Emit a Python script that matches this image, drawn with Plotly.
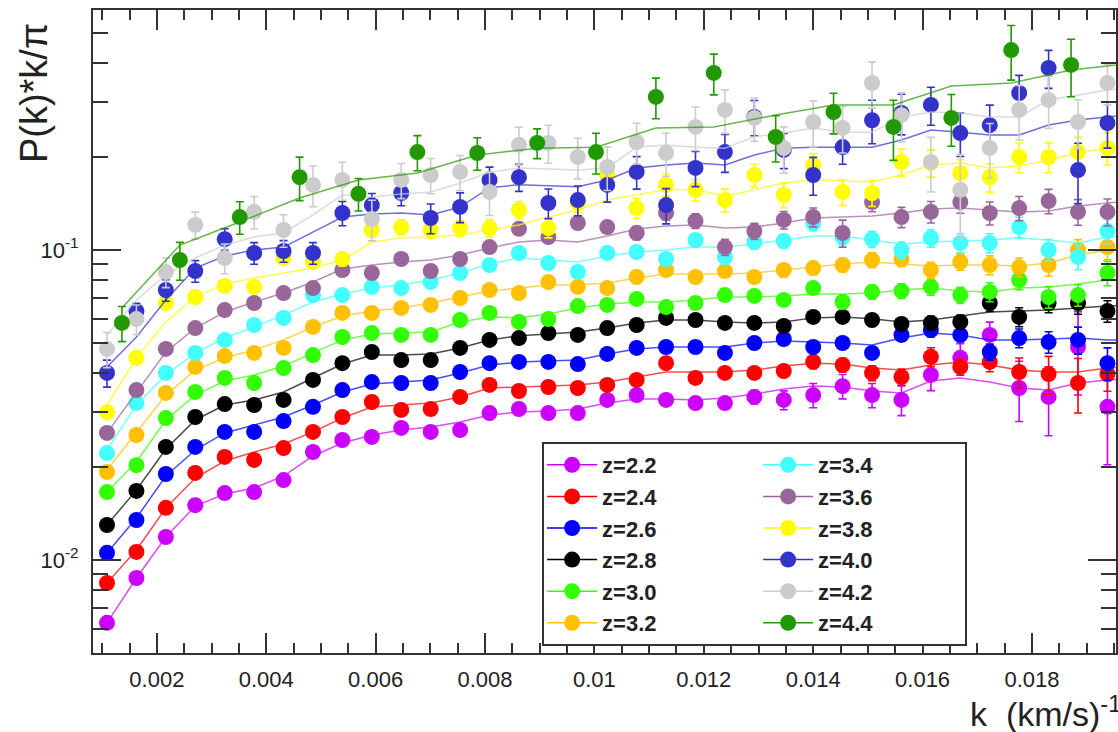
import plotly.graph_objects as go

# ---------------- data ----------------
k = [0.001088, 0.001626, 0.002164, 0.002702, 0.003240, 0.003778, 0.004316, 0.004854, 0.005392, 0.005930,
     0.006468, 0.007006, 0.007544, 0.008082, 0.008620, 0.009158, 0.009696, 0.010234, 0.010772, 0.011310,
     0.011848, 0.012386, 0.012924, 0.013462, 0.014000, 0.014538, 0.015076, 0.015614, 0.016152, 0.016690,
     0.017228, 0.017766, 0.018304, 0.018842, 0.019380]
k_model = [0.001088, 0.001626, 0.002164, 0.002702, 0.003240, 0.003778, 0.004316, 0.004854, 0.005392, 0.005930,
           0.006468, 0.007006, 0.007544, 0.008082, 0.008620, 0.009158, 0.009696, 0.010234, 0.010772, 0.011310,
           0.011848, 0.012386, 0.012924, 0.013462, 0.014000, 0.014538, 0.015076, 0.015614, 0.016152, 0.016690,
           0.017228, 0.017766, 0.018304, 0.018842, 0.019380, 0.019918]
k44 = [0.001361, 0.002420, 0.003515, 0.004609, 0.005686, 0.006763, 0.007858, 0.008953, 0.010029, 0.011124,
       0.012182, 0.013314, 0.014372, 0.015467, 0.016526, 0.017620, 0.018715]
k44_model = [0.001361, 0.002420, 0.003515, 0.004609, 0.005686, 0.006763, 0.007858, 0.008953, 0.010029, 0.011124,
             0.012182, 0.013314, 0.014372, 0.015467, 0.016526, 0.017620, 0.018715, 0.019810]

z22 = [0.00627, 0.00875, 0.01186, 0.01503, 0.01644, 0.01656, 0.01811, 0.0223, 0.02439, 0.02494, 0.02668, 0.02589,
       0.02626, 0.02979, 0.03069, 0.02979, 0.02979, 0.03283, 0.03405, 0.03283, 0.03208, 0.03208, 0.03357, 0.03283,
       0.03405, 0.03638, 0.03405, 0.03283, 0.03954, 0.04489, 0.05322, 0.03587, 0.03357, 0.04866, 0.03120]
z24 = [0.00843, 0.01062, 0.01473, 0.01909, 0.02150, 0.02103, 0.02297, 0.02589, 0.02892, 0.03234, 0.03048, 0.03069,
       0.03357, 0.03672, 0.03508, 0.03615, 0.03587, 0.03672, 0.03811, 0.04315, 0.03867, 0.04012, 0.04012, 0.04071,
       0.04355, 0.04257, 0.04012, 0.03894, 0.04522, 0.04195, 0.04355, 0.04041, 0.03981, 0.03724, 0.03981]
z26 = [0.01055, 0.01346, 0.01894, 0.02316, 0.02589, 0.02589, 0.02806, 0.03120, 0.03533, 0.03750, 0.03724, 0.03724,
       0.04041, 0.04315, 0.04355, 0.04355, 0.04286, 0.04620, 0.04831, 0.04866, 0.04866, 0.04655, 0.05012, 0.05164,
       0.04866, 0.05012, 0.04655, 0.05322, 0.05521, 0.05322, 0.04689, 0.05200, 0.05047, 0.05128, 0.04315]
z28 = [0.01297, 0.01671, 0.02316, 0.02892, 0.03184, 0.03162, 0.03283, 0.03811, 0.04315, 0.04689, 0.04416, 0.04416,
       0.04831, 0.05128, 0.05200, 0.05396, 0.05322, 0.05600, 0.05730, 0.06040, 0.05945, 0.05818, 0.05818, 0.05686,
       0.06083, 0.06083, 0.05945, 0.05775, 0.05818, 0.05861, 0.06745, 0.06083, 0.06745, 0.06745, 0.06353]
z30 = [0.01656, 0.02023, 0.02870, 0.03482, 0.03867, 0.03724, 0.04161, 0.04583, 0.05240, 0.05396, 0.05322, 0.05322,
       0.05945, 0.06266, 0.05861, 0.05988, 0.06595, 0.06650, 0.06953, 0.06546, 0.06745, 0.07156, 0.07109, 0.06902,
       0.07535, 0.06796, 0.07324, 0.07379, 0.07600, 0.07156, 0.07324, 0.08003, 0.07052, 0.07156, 0.08431]
z32 = [0.01923, 0.02531, 0.03459, 0.04195, 0.04549, 0.04655, 0.04831, 0.05646, 0.06266, 0.06266, 0.06499, 0.06650,
       0.07000, 0.07430, 0.07263, 0.07882, 0.07600, 0.07535, 0.08181, 0.08618, 0.08181, 0.08554, 0.08181, 0.08618,
       0.08746, 0.08948, 0.09286, 0.09355, 0.08618, 0.09150, 0.08948, 0.08811, 0.08948, 0.1000, 0.1022]
z34 = [0.02213, 0.03208, 0.04012, 0.04655, 0.05128, 0.05730, 0.06040, 0.07156, 0.07156, 0.07600, 0.07535, 0.07882,
       0.08431, 0.08948, 0.09780, 0.09080, 0.08494, 0.09780, 0.09852, 0.09355, 0.1077, 0.09494, 0.1061, 0.1069,
       0.1222, 0.1101, 0.1084, 0.1000, 0.1093, 0.1054, 0.1054, 0.1186, 0.1000, 0.09494, 0.1151]
z36 = [0.02570, 0.03533, 0.04797, 0.05600, 0.06399, 0.06745, 0.07263, 0.07535, 0.08618, 0.08431, 0.09355, 0.08554,
       0.09355, 0.1022, 0.1170, 0.1101, 0.1222, 0.1186, 0.1135, 0.1316, 0.1241, 0.1022, 0.1151, 0.1250,
       0.1277, 0.1135, 0.1428, 0.1277, 0.1328, 0.1428, 0.1316, 0.1365, 0.1439, 0.1328, 0.1328]
z38 = [0.02999, 0.04489, 0.06745, 0.07052, 0.07656, 0.07600, 0.09424, 0.09150, 0.09355, 0.1160, 0.1186, 0.1160,
       0.1177, 0.1177, 0.1346, 0.1177, 0.1418, 0.1746, 0.1365, 0.1622, 0.1563, 0.1449, 0.1746, 0.1505,
       0.1879, 0.1539, 0.1527, 0.1923, 0.1909, 0.1771, 0.1718, 0.1995, 0.1995, 0.2070, 0.2133]
z40 = [0.04012, 0.06353, 0.07430, 0.08554, 0.1084, 0.09780, 0.09925, 0.09780, 0.1316, 0.1396, 0.1527, 0.1268,
       0.1377, 0.1683, 0.1718, 0.1418, 0.1449, 0.1622, 0.1786, 0.1396, 0.1840, 0.2070, 0.2686, 0.2103,
       0.1746, 0.2148, 0.2622, 0.2766, 0.2937, 0.2383, 0.2528, 0.3210, 0.3864, 0.1811, 0.2568]
z42 = [0.04797, 0.05988, 0.08494, 0.1205, 0.09424, 0.1328, 0.1160, 0.1622, 0.1683, 0.1259, 0.1683, 0.1746,
       0.1786, 0.1539, 0.2184, 0.2215, 0.1995, 0.1853, 0.2230, 0.2055, 0.2494, 0.2831, 0.2667, 0.2133,
       0.2588, 0.2477, 0.3457, 0.2723, 0.1923, 0.1563, 0.2133, 0.2831, 0.3048, 0.2588, 0.3457]
z44 = [0.05818, 0.09286, 0.1277, 0.1718, 0.1518, 0.2070, 0.2055, 0.2215, 0.2070, 0.3118, 0.3725, 0.2316,
       0.2787, 0.2494, 0.2667, 0.4415, 0.3953]

# model curves
m22 = [0.00627, 0.00875, 0.01186, 0.01493, 0.01632, 0.01708, 0.01866, 0.02166, 0.02384, 0.02531, 0.02627, 0.02686,
       0.02787, 0.02935, 0.03003, 0.03025, 0.03070, 0.03208, 0.03304, 0.03304, 0.03280, 0.03329, 0.03430, 0.03560,
       0.03640, 0.03613, 0.03508, 0.03456, 0.03780, 0.03865, 0.03751, 0.03587, 0.03534, 0.03724, 0.03808, 0.03865]
m24 = [0.00843, 0.01077, 0.01471, 0.01839, 0.02086, 0.02231, 0.02366, 0.02589, 0.02872, 0.03115, 0.03162, 0.03208,
       0.03357, 0.03587, 0.03613, 0.03640, 0.03672, 0.03751, 0.03892, 0.04039, 0.04039, 0.04039, 0.04099, 0.04222,
       0.04315, 0.04286, 0.04159, 0.04099, 0.04253, 0.04349, 0.04253, 0.04099, 0.04039, 0.04039, 0.04159, 0.04222]
m26 = [0.01053, 0.01366, 0.01866, 0.02264, 0.02569, 0.02726, 0.02892, 0.03162, 0.03482, 0.03697, 0.03751, 0.03808,
       0.04012, 0.04253, 0.04349, 0.04382, 0.04416, 0.04620, 0.04797, 0.04866, 0.04866, 0.04866, 0.05012, 0.05088,
       0.05050, 0.05012, 0.04938, 0.05200, 0.05396, 0.05322, 0.05128, 0.05128, 0.05164, 0.05200, 0.05128, 0.05128]
m28 = [0.01297, 0.01682, 0.02280, 0.02829, 0.03162, 0.03280, 0.03482, 0.03865, 0.04286, 0.04583, 0.04583, 0.04620,
       0.04831, 0.05128, 0.05285, 0.05360, 0.05438, 0.05600, 0.05818, 0.05945, 0.05945, 0.05861, 0.05818, 0.05861,
       0.06040, 0.06083, 0.05996, 0.05861, 0.05945, 0.06128, 0.06310, 0.06353, 0.06399, 0.06496, 0.06594, 0.06644]
m30 = [0.01656, 0.02070, 0.02829, 0.03403, 0.03780, 0.03954, 0.04222, 0.04655, 0.05128, 0.05360, 0.05396, 0.05438,
       0.05861, 0.06083, 0.06040, 0.06214, 0.06500, 0.06694, 0.06796, 0.06796, 0.06896, 0.07052, 0.07052, 0.07105,
       0.07211, 0.07211, 0.07263, 0.07430, 0.07540, 0.07379, 0.07324, 0.07540, 0.07600, 0.07772, 0.08000, 0.08121]
m32 = [0.01952, 0.02589, 0.03403, 0.04099, 0.04489, 0.04760, 0.05128, 0.05646, 0.06128, 0.06353, 0.06500, 0.06745,
       0.07052, 0.07379, 0.07540, 0.07714, 0.07714, 0.07830, 0.08121, 0.08363, 0.08363, 0.08363, 0.08426, 0.08618,
       0.08811, 0.09011, 0.09150, 0.09011, 0.08876, 0.08943, 0.08943, 0.08876, 0.09080, 0.09635, 0.1000, 0.1015]
m34 = [0.02264, 0.03162, 0.03954, 0.04655, 0.05200, 0.05646, 0.06170, 0.06796, 0.07211, 0.07540, 0.07714, 0.08000,
       0.08426, 0.09011, 0.09424, 0.09286, 0.09150, 0.09564, 0.09852, 0.1000, 0.1022, 0.1022, 0.1045, 0.1077,
       0.1110, 0.1110, 0.1077, 0.1045, 0.1061, 0.1069, 0.1077, 0.1093, 0.1077, 0.1053, 0.1101, 0.1118]
m36 = [0.02570, 0.03482, 0.04689, 0.05600, 0.06310, 0.06796, 0.07263, 0.07882, 0.08683, 0.08948, 0.09150, 0.09286,
       0.09635, 0.1015, 0.1061, 0.1077, 0.1061, 0.1110, 0.1169, 0.1195, 0.1204, 0.1177, 0.1186, 0.1222,
       0.1268, 0.1277, 0.1287, 0.1316, 0.1356, 0.1365, 0.1346, 0.1326, 0.1336, 0.1386, 0.1418, 0.1449]
m38 = [0.03162, 0.04489, 0.05861, 0.07052, 0.07772, 0.08121, 0.08426, 0.08746, 0.09286, 0.1061, 0.1093, 0.1101,
       0.1118, 0.1160, 0.1204, 0.1277, 0.1346, 0.1449, 0.1505, 0.1563, 0.1563, 0.1493, 0.1563, 0.1646,
       0.1684, 0.1671, 0.1658, 0.1746, 0.1879, 0.1909, 0.1839, 0.1866, 0.1952, 0.2056, 0.2133, 0.2182]
m40 = [0.04192, 0.05240, 0.06896, 0.08746, 0.09564, 0.1000, 0.1022, 0.1143, 0.1278, 0.1307, 0.1316, 0.1297,
       0.1376, 0.1588, 0.1624, 0.1612, 0.1600, 0.1682, 0.1839, 0.1879, 0.1907, 0.1879, 0.2025, 0.2131,
       0.2147, 0.2147, 0.2147, 0.2265, 0.2438, 0.2400, 0.2349, 0.2349, 0.2531, 0.2627, 0.2686, 0.2747]
m42 = [0.05322, 0.06896, 0.08302, 0.09424, 0.1037, 0.1101, 0.1135, 0.1297, 0.1507, 0.1482, 0.1516, 0.1539,
       0.1645, 0.1782, 0.1839, 0.1825, 0.1812, 0.1839, 0.2147, 0.2180, 0.2147, 0.2131, 0.2318, 0.2384,
       0.2474, 0.2400, 0.2400, 0.2686, 0.2786, 0.2765, 0.2686, 0.2686, 0.3047, 0.3162, 0.3282, 0.3355]
m44 = [0.06500, 0.1037, 0.1231, 0.1471, 0.1682, 0.1772, 0.2025, 0.2131, 0.2147, 0.2474, 0.2493, 0.2726,
       0.2936, 0.2936, 0.3380, 0.3459, 0.3806, 0.4006]

# relative uncertainties (percent)
e22 = [1.5, 1.5, 1.5, 1.5, 1.5, 2, 2, 2, 2, 2, 2.5, 2.5, 2.5, 2.5, 3, 3, 3, 3, 3, 3.5, 4, 4, 5, 7, 9, 9, 9, 11, 11, 11, 10, 22, 25, 30, 35]
e24 = [1.5, 1.5, 1.5, 1.5, 1.5, 2, 2, 2, 2, 2, 2, 2, 2.5, 2.5, 2.5, 3, 3, 3, 3, 3.5, 3.5, 4, 4, 4.5, 5, 5, 5.5, 6, 7, 6, 7, 11, 14, 20, 12]
e26 = [1.5, 1.5, 1.5, 1.5, 1.5, 2, 2, 2, 2, 2, 2, 2, 2, 2.5, 2.5, 2.5, 3, 3, 3, 3, 3, 3.5, 3.5, 4, 4, 4, 4.5, 4.5, 5, 5, 6, 7, 8, 10, 12]
e28 = [1.5, 1.5, 1.5, 1.5, 1.5, 2, 2, 2, 2, 2, 2, 2, 2, 2.5, 2.5, 2.5, 3, 3, 3, 3, 3, 3.5, 3.5, 4, 4, 4, 4.5, 4.5, 5, 5, 6, 7, 7, 8, 8]
e30 = [1.5, 1.5, 1.5, 1.5, 2, 2, 2, 2, 2, 2.5, 2.5, 2.5, 2.5, 3, 3, 3, 3, 3.5, 3.5, 3.5, 4, 4, 4, 4.5, 4.5, 5, 5, 5.5, 6, 6, 7, 7, 8, 8, 9]
e32 = [1.5, 1.5, 1.5, 2, 2, 2, 2, 2.5, 2.5, 2.5, 2.5, 3, 3, 3, 3, 3.5, 3.5, 3.5, 4, 4, 4, 4.5, 4.5, 5, 5, 5, 5.5, 5.5, 6, 6, 7, 7, 8, 8, 9]
e34 = [1.5, 1.5, 2, 2, 2, 2, 2.5, 2.5, 2.5, 3, 3, 3, 3, 3.5, 3.5, 3.5, 4, 4, 4, 4.5, 4.5, 5, 5, 5, 5.5, 5.5, 6, 6, 6.5, 7, 7, 7.5, 8, 9, 9]
e36 = [2, 2, 2, 2, 2, 2.5, 2.5, 2.5, 3, 3, 3, 3.5, 3.5, 4, 4, 4, 4.5, 4.5, 5, 5, 5.5, 6, 6, 6.5, 7, 10, 7, 7.5, 8, 8, 8.5, 9, 9, 9.5, 10]
e38 = [3, 3, 3, 3.5, 3.5, 4, 4, 4.5, 5, 5, 5.5, 6, 6, 6.5, 6.5, 7, 7, 7.5, 7.5, 8, 8, 8.5, 8.5, 9, 9, 9.5, 9.5, 10, 10, 10.5, 10.5, 11, 11, 11.5, 12]
e40 = [10, 6, 8, 8, 8, 8, 8, 8, 9, 9, 9, 11, 11, 10, 10, 11, 11, 12, 12, 13, 13, 14, 13, 13, 14, 12, 16, 15, 14, 16, 16, 14, 14, 22, 17]
e42 = [13, 11, 11, 10, 11, 12, 12, 15, 14, 15, 13, 13, 13, 16, 14, 14, 15, 16, 15, 16, 16, 16, 16, 17, 17, 17, 17, 18, 20, 30, 20, 20, 19, 18, 15]
e44 = [13, 14, 12, 16, 12, 13, 12, 11, 15, 15, 15, 17, 15, 22, 19, 20, 21]

labels = ["z=2.2", "z=2.4", "z=2.6", "z=2.8", "z=3.0", "z=3.2",
          "z=3.4", "z=3.6", "z=3.8", "z=4.0", "z=4.2", "z=4.4"]
colors = ["#cc00ff", "#ff0000", "#0000ff", "#000000", "#33ff00", "#ffc000",
          "#44ffff", "#996699", "#ffff00", "#3333cc", "#cccccc", "#229900"]

series = [
    (k, z22, e22, k_model, m22), (k, z24, e24, k_model, m24), (k, z26, e26, k_model, m26),
    (k, z28, e28, k_model, m28), (k, z30, e30, k_model, m30), (k, z32, e32, k_model, m32),
    (k, z34, e34, k_model, m34), (k, z36, e36, k_model, m36), (k, z38, e38, k_model, m38),
    (k, z40, e40, k_model, m40), (k, z42, e42, k_model, m42), (k44, z44, e44, k44_model, m44),
]

FONT = "Liberation Sans, Arial, Helvetica, sans-serif"
W, H = 1118, 732
L, R, T, B = 93, 0, 10, 79
PW, PH = W - L - R, H - T - B

fig = go.Figure()
for (kx, vals, rel, km, mv), col in zip(series, colors):
    fig.add_trace(go.Scatter(x=km, y=mv, mode="lines", line=dict(color=col, width=1.5),
                             opacity=0.7, showlegend=False, hoverinfo="skip"))
    fig.add_trace(go.Scatter(
        x=kx, y=vals, mode="markers",
        marker=dict(color=col, size=16, line=dict(width=0)),
        error_y=dict(type="data", array=[v * e / 100 for v, e in zip(vals, rel)],
                     color=col, thickness=1.6, width=4),
        showlegend=False))

# legend entries
for i, (lab, col) in enumerate(zip(labels, colors)):
    grp = "a" if i < 6 else "b"
    fig.add_trace(go.Scatter(
        x=[None], y=[None], mode="lines+markers", name=lab, legendgroup=grp,
        legendwidth=151 if grp == "a" else 142,
        marker=dict(color=col, size=16), line=dict(color=col, width=1.5)))

def px_x(p):
    return (p - L) / PW

def px_y(p):
    return (H - B - p) / PH

xt = [0.002, 0.004, 0.006, 0.008, 0.010, 0.012, 0.014, 0.016, 0.018]
xt_text = ["0.002", "0.004", "0.006", "0.008", "0.01", "0.012", "0.014", "0.016", "0.018"]
yt = [0.01, 0.1]
yt_text = ["10<sup>-2</sup>", "10<sup>-1</sup>"]
y_minor = [0.006, 0.007, 0.008, 0.009, 0.02, 0.03, 0.04, 0.05, 0.06, 0.07, 0.08, 0.09, 0.2, 0.3, 0.4, 0.5]

AX = "#333333"
fig.update_layout(
    width=W, height=H, margin=dict(l=L, r=R, t=T, b=B, pad=0),
    plot_bgcolor="white", paper_bgcolor="white",
    font=dict(family=FONT, color="#222222"),
    xaxis=dict(range=[0.000832, 0.000832 + PW / 54800.0], tickmode="array", tickvals=xt, ticktext=xt_text,
               ticks="inside", ticklen=20, tickwidth=2, tickcolor=AX,
               showline=True, linecolor=AX, linewidth=2, mirror="ticks",
               showgrid=False, zeroline=False, ticklabelstandoff=6,
               tickfont=dict(family=FONT, size=22, color="#222222"),
               minor=dict(ticks="inside", ticklen=10, tickwidth=2, tickcolor=AX,
                          tick0=0, dtick=0.0005, showgrid=False)),
    yaxis=dict(type="log", range=[-2.3, -0.2258], tickmode="array", tickvals=yt, ticktext=yt_text,
               ticks="inside", ticklen=28, tickwidth=2, tickcolor=AX,
               showline=True, linecolor=AX, linewidth=2, mirror="ticks",
               showgrid=False, zeroline=False, ticklabelstandoff=8,
               tickfont=dict(family=FONT, size=22, color="#222222"),
               minor=dict(ticks="inside", ticklen=15, tickwidth=2, tickcolor=AX,
                          tickmode="array", tickvals=y_minor, showgrid=False)),
    legend=dict(orientation="h", traceorder="grouped", x=px_x(543), y=px_y(442),
                xanchor="left", yanchor="top", bgcolor="white", bordercolor=AX, borderwidth=2,
                font=dict(family=FONT, size=22, color="#222222", weight="bold"),
                itemwidth=50, tracegroupgap=0),
    shapes=[dict(type="line", xref="paper", yref="paper", x0=px_x(762), x1=px_x(762),
                 y0=px_y(443), y1=px_y(641), line=dict(color=AX, width=2))],
    annotations=[
        dict(text="k  (km/s)<sup>-1</sup>", xref="paper", yref="paper", x=px_x(970), y=px_y(711),
             xanchor="left", yanchor="middle", showarrow=False,
             font=dict(family=FONT, size=34, color="#222222")),
        dict(text="P(k)*k/π", xref="paper", yref="paper", x=px_x(34), y=px_y(93),
             xanchor="center", yanchor="middle", showarrow=False, textangle=-90,
             font=dict(family=FONT, size=38, color="#222222")),
    ],
)

fig.write_html("out.html", config={"displayModeBar": False},
               post_script="document.body.style.margin='0px';document.body.style.overflow='hidden';")
